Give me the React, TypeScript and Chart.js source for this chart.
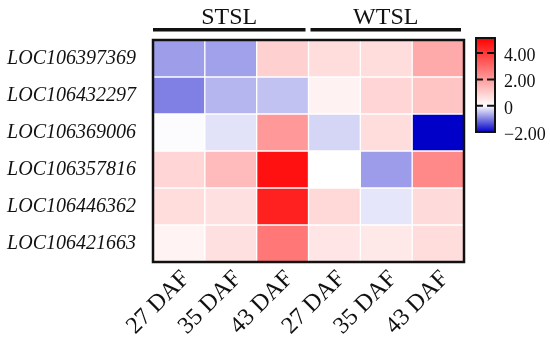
import React, { useEffect, useRef } from 'react';
import { Chart, registerables } from 'chart.js';

Chart.register(...registerables);

const genes = [
  'LOC106397369',
  'LOC106432297',
  'LOC106369006',
  'LOC106357816',
  'LOC106446362',
  'LOC106421663',
];
const columns = ['27 DAF', '35 DAF', '43 DAF', '27 DAF', '35 DAF', '43 DAF'];
const groupLabels = ['STSL', 'WTSL'];
const groupSizes = [3, 3];

const rowLOC106397369 = [-0.77, -0.74, 0.95, 0.69, 0.69, 1.72];
const rowLOC106432297 = [-1.0, -0.58, -0.49, 0.26, 0.85, 1.17];
const rowLOC106369006 = [-0.02, -0.23, 2.06, -0.33, 0.69, -2.0];
const rowLOC106357816 = [0.85, 1.37, 4.81, 0.0, -0.78, 2.4];
const rowLOC106446362 = [0.69, 0.62, 4.5, 0.78, -0.2, 0.75];
const rowLOC106421663 = [0.25, 0.62, 2.75, 0.52, 0.46, 0.69];
const values = [
  rowLOC106397369,
  rowLOC106432297,
  rowLOC106369006,
  rowLOC106357816,
  rowLOC106446362,
  rowLOC106421663,
];

const colorMin = -2;
const colorMax = 5.15;
const legendTicks = [4, 2, 0, -2];
const legendTickLabels = ['4.00', '2.00', '0', '\u22122.00'];

const SERIF = '"Liberation Serif", "DejaVu Serif", serif';

function colorFor(v: number): string {
  if (v >= 0) {
    const f = Math.min(v / colorMax, 1);
    const c = Math.round(255 * (1 - f));
    return `rgb(255,${c},${c})`;
  }
  const f = Math.min(v / colorMin, 1);
  const c = Math.round(255 * (1 - f));
  const b = Math.round(255 - f * 55);
  return `rgb(${c},${c},${b})`;
}

const decorPlugin = {
  id: 'decor',
  afterDraw(chart: any) {
    const ctx = chart.ctx;
    const area = chart.chartArea;
    ctx.save();
    // frame
    ctx.strokeStyle = '#111';
    ctx.lineWidth = 2.5;
    ctx.strokeRect(area.left, area.top, area.right - area.left, area.bottom - area.top);

    // group headers
    const cellW = (area.right - area.left) / columns.length;
    let start = 0;
    groupLabels.forEach((lab, i) => {
      const l = area.left + start * cellW + (i === 0 ? 0 : 2);
      const r = area.left + (start + groupSizes[i]) * cellW - 3;
      ctx.fillStyle = '#111';
      ctx.fillRect(l, area.top - 12, r - l, 3.5);
      ctx.font = `24px ${SERIF}`;
      ctx.textAlign = 'center';
      ctx.textBaseline = 'alphabetic';
      ctx.fillText(lab, (l + r) / 2, area.top - 16);
      start += groupSizes[i];
    });

    // colour bar
    const bx = area.right + 12;
    const bw = 19;
    const bTop = area.top - 2;
    const bBottom = 132;
    const yOf = (v: number) => bBottom - ((v - colorMin) / (colorMax - colorMin)) * (bBottom - bTop);
    const grad = ctx.createLinearGradient(0, bBottom, 0, bTop);
    grad.addColorStop(0, colorFor(colorMin));
    grad.addColorStop((0 - colorMin) / (colorMax - colorMin), colorFor(0));
    grad.addColorStop(1, colorFor(colorMax));
    ctx.fillStyle = grad;
    ctx.fillRect(bx, bTop, bw, bBottom - bTop);
    ctx.strokeStyle = '#111';
    ctx.lineWidth = 2;
    ctx.strokeRect(bx, bTop, bw, bBottom - bTop);
    ctx.setLineDash([7, 4]);
    legendTicks.forEach((t, i) => {
      const y = yOf(t);
      if (t > colorMin) {
        ctx.beginPath();
        ctx.moveTo(bx, y);
        ctx.lineTo(bx + bw, y);
        ctx.stroke();
      }
      ctx.fillStyle = '#111';
      ctx.font = `18px ${SERIF}`;
      ctx.textAlign = 'left';
      ctx.textBaseline = 'alphabetic';
      ctx.fillText(legendTickLabels[i], bx + 28, y + 8);
    });
    ctx.setLineDash([]);
    ctx.restore();
  },
};

export default function App() {
  const ref = useRef<HTMLCanvasElement | null>(null);
  useEffect(() => {
    if (!ref.current) return;
    const datasets = values
      .map((row, r) => ({
        label: genes[r],
        data: row.map(() => 1),
        backgroundColor: row.map((v) => colorFor(v)),
        borderColor: '#ffffff',
        borderWidth: 1,
        borderSkipped: false,
        barPercentage: 1,
        categoryPercentage: 1,
        yAxisID: 'y',
      }))
      .reverse();
    const chart = new Chart(ref.current, {
      type: 'bar',
      data: { labels: columns, datasets },
      plugins: [decorPlugin],
      options: {
        animation: false,
        responsive: false,
        layout: { padding: { top: 40, right: 86, left: 0, bottom: 0 } },
        plugins: { legend: { display: false }, tooltip: { enabled: false } },
        scales: {
          x: {
            stacked: true,
            offset: true,
            grid: { display: false, drawTicks: false },
            border: { display: false },
            ticks: {
              autoSkip: false,
              minRotation: 45,
              maxRotation: 45,
              padding: 3,
              labelOffset: 7,
              color: '#111',
              font: { family: SERIF, size: 24 },
            },
            afterFit: (s: any) => {
              s.height = 80;
            },
          },
          y: {
            stacked: true,
            display: false,
            min: 0,
            max: genes.length,
          },
          genes: {
            type: 'category',
            position: 'left',
            labels: genes,
            offset: true,
            grid: { display: false, drawTicks: false },
            border: { display: false },
            ticks: {
              padding: 17,
              color: '#111',
              font: { family: SERIF, size: 20, style: 'italic' },
            },
            afterFit: (s: any) => {
              s.width = 153;
            },
          },
        },
      } as any,
    });
    return () => chart.destroy();
  }, []);
  return (
    <div style={{ position: 'absolute', left: 0, top: 0, width: 550, height: 342, background: '#fff' }}>
      <canvas ref={ref} width={550} height={342} />
    </div>
  );
}
